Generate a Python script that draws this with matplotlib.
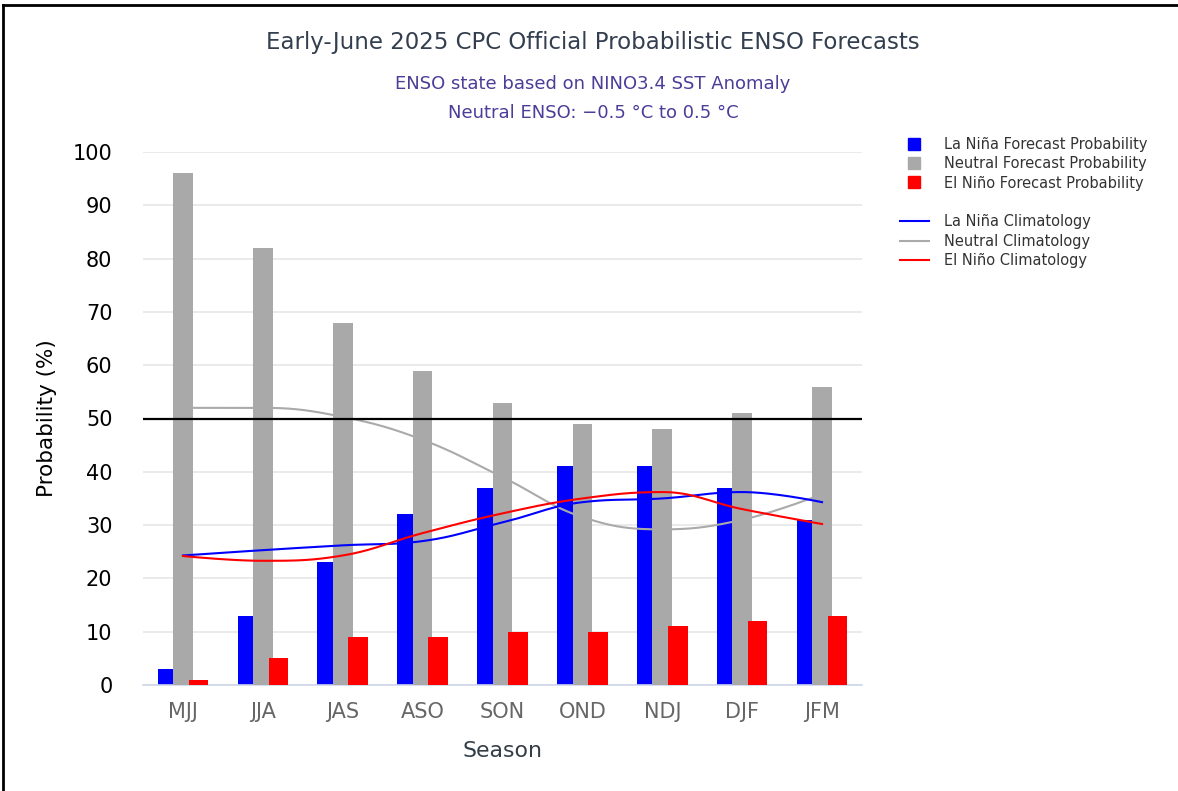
import numpy as np
import matplotlib
matplotlib.use("Agg")
import matplotlib.pyplot as plt
from matplotlib.lines import Line2D
from matplotlib.patches import Patch

# values
seasons = ["MJJ", "JJA", "JAS", "ASO", "SON", "OND", "NDJ", "DJF", "JFM"]
la_nina_prob = [3, 13, 23, 32, 37, 41, 41, 37, 31]
neutral_prob = [96, 82, 68, 59, 53, 49, 48, 51, 56]
el_nino_prob = [1, 5, 9, 9, 10, 10, 11, 12, 13]

la_nina_clim = [24.3, 25.3, 26.2, 27.0, 30.5, 34.3, 35.0, 36.2, 34.3]
neutral_clim = [52.0, 52.0, 50.3, 46.0, 39.0, 31.5, 29.2, 31.0, 35.8]
el_nino_clim = [24.2, 23.3, 24.3, 28.5, 32.2, 35.0, 36.2, 33.0, 30.2]

BLUE = "#0000ff"
GRAY = "#a9a9a9"
RED = "#ff0000"
plt.rcParams['font.family'] = ['DejaVu Sans']


def spline_path(xs, ys, n=40):
    # highcharts-like smooth curve through the points
    xs = np.asarray(xs, float)
    ys = np.asarray(ys, float)
    m = len(xs)
    lc = [(xs[i], ys[i]) for i in range(m)]
    rc = [(xs[i], ys[i]) for i in range(m)]
    sm, den = 1.5, 2.5
    for i in range(1, m - 1):
        px, py = xs[i], ys[i]
        lx, ly = xs[i - 1], ys[i - 1]
        nx, ny = xs[i + 1], ys[i + 1]
        lcx = (sm * px + lx) / den
        lcy = (sm * py + ly) / den
        rcx = (sm * px + nx) / den
        rcy = (sm * py + ny) / den
        if rcx != lcx:
            corr = (rcy - lcy) * (rcx - px) / (rcx - lcx) + py - rcy
            lcy += corr
            rcy += corr
        if lcy > ly and lcy > py:
            lcy = max(ly, py)
            rcy = 2 * py - lcy
        elif lcy < ly and lcy < py:
            lcy = min(ly, py)
            rcy = 2 * py - lcy
        if rcy > ny and rcy > py:
            rcy = max(ny, py)
            lcy = 2 * py - rcy
        elif rcy < ny and rcy < py:
            rcy = min(ny, py)
            lcy = 2 * py - rcy
        lc[i] = (lcx, lcy)
        rc[i] = (rcx, rcy)
    t = np.linspace(0, 1, n)[:, None]
    out = []
    for i in range(m - 1):
        p0 = np.array([xs[i], ys[i]])
        p1 = np.array(rc[i])
        p2 = np.array(lc[i + 1])
        p3 = np.array([xs[i + 1], ys[i + 1]])
        seg = ((1 - t) ** 3) * p0 + 3 * ((1 - t) ** 2) * t * p1 + 3 * (1 - t) * t ** 2 * p2 + t ** 3 * p3
        out.append(seg if i == 0 else seg[1:])
    out = np.vstack(out)
    return out[:, 0], out[:, 1]


fig = plt.figure(figsize=(11.78, 7.91), dpi=100)
ax = fig.add_axes([143 / 1178, 106 / 791, 719 / 1178, 533 / 791])

x = np.arange(len(seasons))
w = 0.246
off = 0.194
ax.bar(x - off, la_nina_prob, w, color=BLUE, zorder=2)
ax.bar(x, neutral_prob, w, color=GRAY, zorder=3)
ax.bar(x + off, el_nino_prob, w, color=RED, zorder=4)

for vals, col in [(neutral_clim, "#aaaaaa"), (la_nina_clim, BLUE), (el_nino_clim, RED)]:
    sx, sy = spline_path(x, vals)
    ax.plot(sx, sy, color=col, lw=1.5, zorder=5)

ax.axhline(50, color="black", lw=1.6, zorder=6)

ax.set_xlim(-0.5, len(seasons) - 0.5)
ax.set_ylim(0, 100)
ax.set_yticks(range(0, 101, 10))
ax.set_xticks(x)
ax.set_xticklabels(seasons)
ax.yaxis.grid(True, color="#e6e6e6", lw=1.2, zorder=0)
ax.set_axisbelow(True)
for s in ["top", "right", "left"]:
    ax.spines[s].set_visible(False)
ax.spines["bottom"].set_color("#ccd6eb")
ax.spines["bottom"].set_linewidth(1.2)
ax.tick_params(axis="both", length=0)
ax.tick_params(axis="y", labelsize=15, labelcolor="black", pad=22)
ax.tick_params(axis="x", labelsize=15, labelcolor="#666666", pad=12)
ax.set_ylabel("Probability (%)", fontsize=15.5, color="black", labelpad=11)
ax.set_xlabel("Season", fontsize=15.8, color="#333d47", labelpad=14)

fig.text(0.5035, 1 - 42 / 791, "Early-June 2025 CPC Official Probabilistic ENSO Forecasts",
         ha="center", va="center", fontsize=16.5, color="#333f4f")
fig.text(0.5035, 1 - 84 / 791, "ENSO state based on NINO3.4 SST Anomaly",
         ha="center", va="center", fontsize=13, color="#4b3d98")
fig.text(0.5035, 1 - 113 / 791, "Neutral ENSO: \u22120.5 \u00b0C to 0.5 \u00b0C",
         ha="center", va="center", fontsize=13, color="#4b3d98")

handles = [
    Line2D([], [], marker="s", ls="none", color=BLUE, markersize=9),
    Line2D([], [], marker="s", ls="none", color=GRAY, markersize=9),
    Line2D([], [], marker="s", ls="none", color=RED, markersize=9),
    Patch(visible=False),
    Line2D([], [], color=BLUE, lw=1.5),
    Line2D([], [], color="#aaaaaa", lw=1.5),
    Line2D([], [], color=RED, lw=1.5),
]
labels = ["La Niña Forecast Probability", "Neutral Forecast Probability",
          "El Niño Forecast Probability", "",
          "La Niña Climatology", "Neutral Climatology", "El Niño Climatology"]
leg = fig.legend(handles, labels, loc="upper left", bbox_to_anchor=(894 / 1178, 1 - 131 / 791),
                 frameon=False, fontsize=10.5, handlelength=2.0, handletextpad=1.0,
                 labelspacing=0.3, borderaxespad=0)
for t in leg.get_texts():
    t.set_color("#333333")

# frame visible on the left and top edges of the screenshot
fig.add_artist(Line2D([3 / 1178, 3 / 1178], [0, 1 - 5 / 791], color="black", lw=2, transform=fig.transFigure))
fig.add_artist(Line2D([3 / 1178, 1], [1 - 5 / 791, 1 - 5 / 791], color="black", lw=2, transform=fig.transFigure))

fig.savefig("out.png", dpi=100)
